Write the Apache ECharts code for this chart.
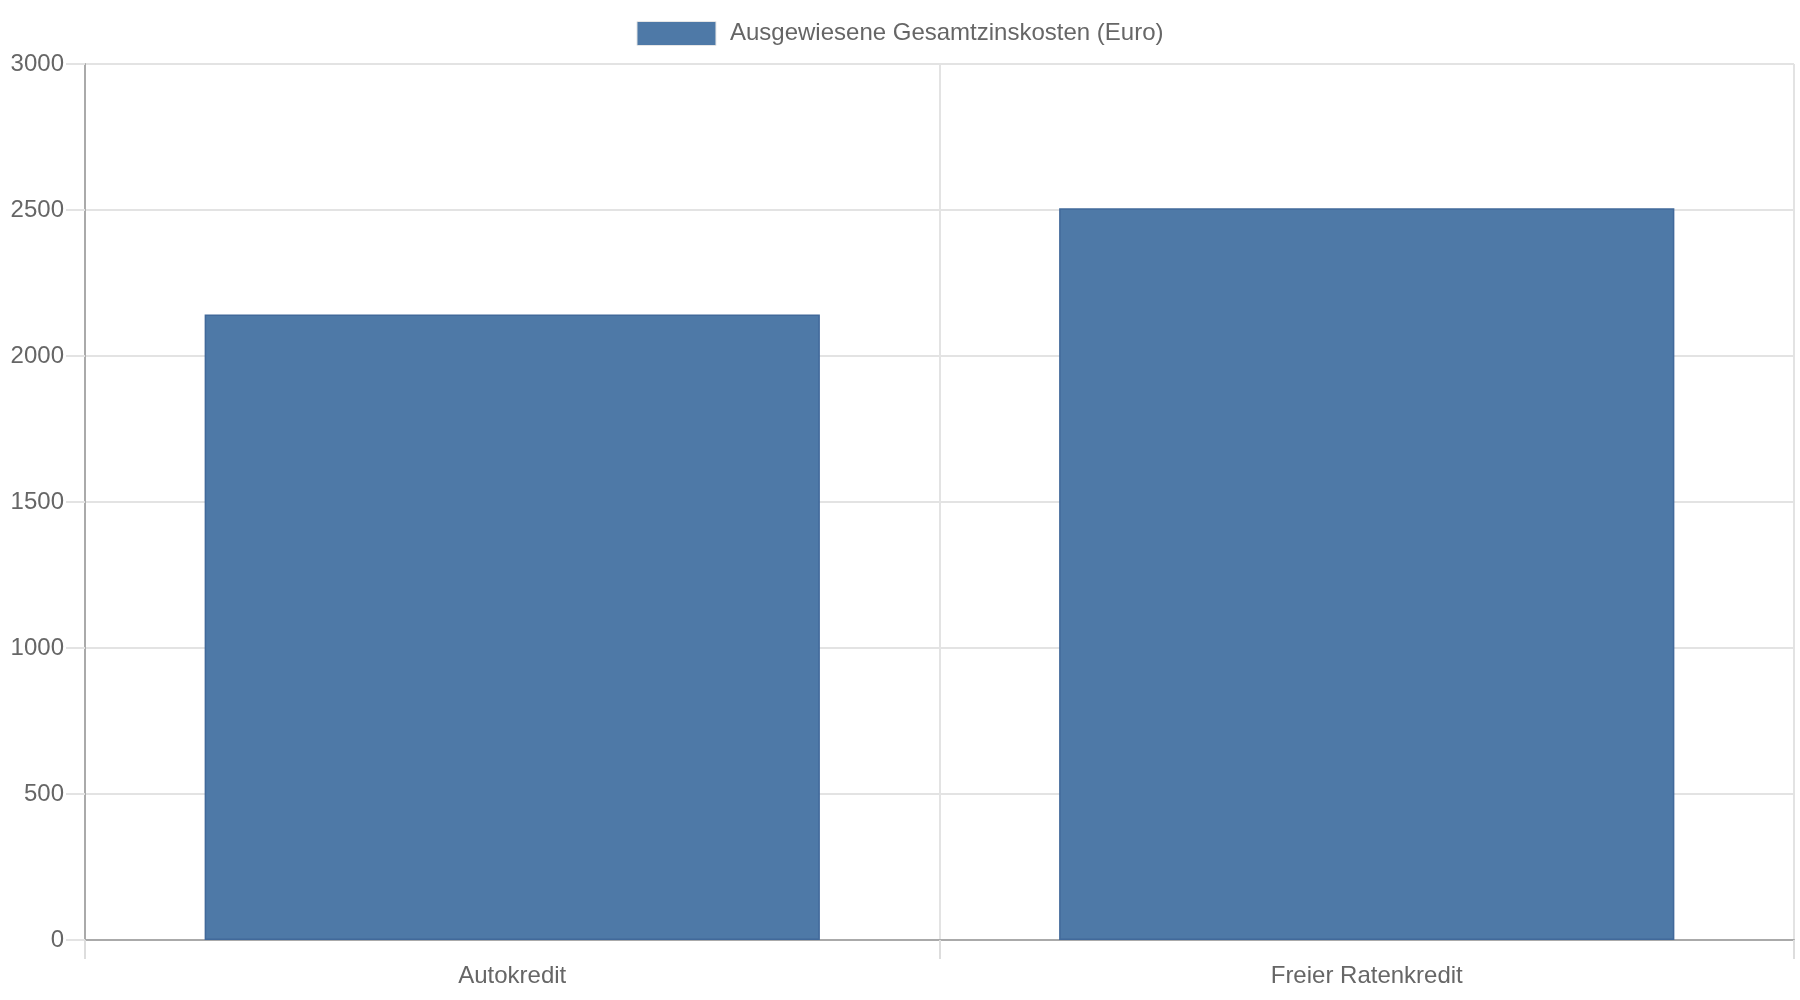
<!DOCTYPE html>
<html>
<head>
<meta charset="utf-8">
<script src="https://cdn.jsdelivr.net/npm/echarts@6/dist/echarts.min.js"></script>
<style>
html,body{margin:0;padding:0;background:#fff;}
#chart{width:1800px;height:1000px;}
</style>
</head>
<body>
<div id="chart"></div>
<script>
const categories = ['Autokredit', 'Freier Ratenkredit'];
const seriesName = 'Ausgewiesene Gesamtzinskosten (Euro)';
const values = [2142, 2506];
const yMin = 0, yMax = 3000, yInterval = 500;

const font = '"Liberation Sans", Arial, Helvetica, sans-serif';
const chart = echarts.init(document.getElementById('chart'), null, {renderer: 'canvas'});
chart.setOption({
  animation: false,
  backgroundColor: '#ffffff',
  textStyle: {fontFamily: font},
  legend: {
    top: 16,
    left: 'center',
    itemWidth: 79,
    itemHeight: 24,
    icon: 'rect',
    itemStyle: {borderColor: '#e6e6e6', borderWidth: 1},
    textStyle: {fontFamily: font, fontSize: 24, color: '#666666', padding: [0, 0, 0, 9]},
    data: [seriesName]
  },
  grid: {left: 85, right: 6, top: 64, bottom: 60, containLabel: false},
  xAxis: {
    type: 'category',
    data: categories,
    boundaryGap: true,
    axisLine: {show: true, lineStyle: {color: '#aaaaaa', width: 2}},
    axisTick: {show: true, length: 19, lineStyle: {color: '#dddddd', width: 2}},
    axisLabel: {fontFamily: font, fontSize: 24, color: '#666666', margin: 24},
    splitLine: {show: true, lineStyle: {color: '#e3e3e3', width: 2}}
  },
  yAxis: {
    type: 'value',
    min: yMin, max: yMax, interval: yInterval,
    axisLine: {show: true, lineStyle: {color: '#aaaaaa', width: 2}},
    axisTick: {show: true, length: 19, lineStyle: {color: '#e3e3e3', width: 2}},
    axisLabel: {fontFamily: font, fontSize: 24, color: '#666666', margin: 21, formatter: v => String(v)},
    splitLine: {show: true, lineStyle: {color: '#e3e3e3', width: 2}}
  },
  series: [{
    name: seriesName,
    type: 'bar',
    data: values,
    barCategoryGap: '28%',
    itemStyle: {color: '#4e79a7', borderColor: '#41699a', borderWidth: 1.5}
  }]
});
</script>
</body>
</html>
